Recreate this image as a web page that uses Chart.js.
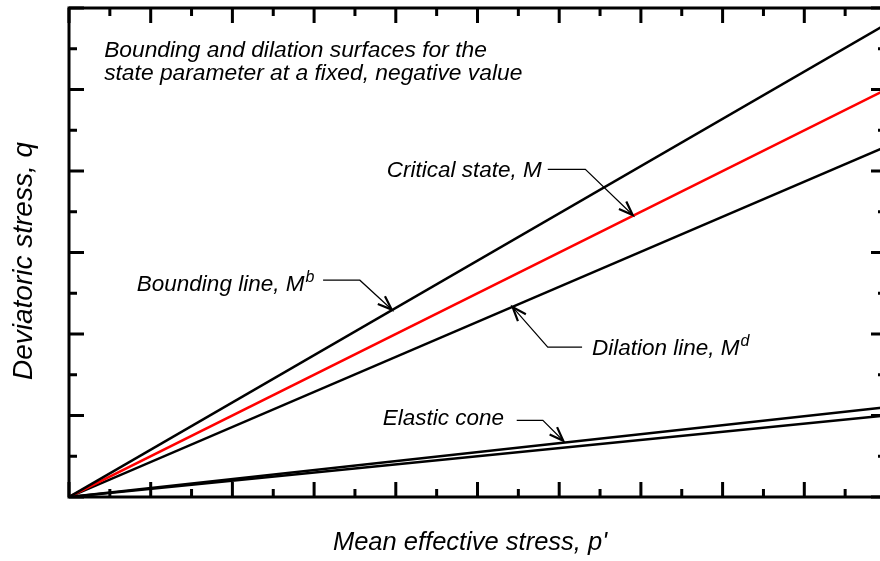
<!DOCTYPE html>
<html>
<head>
<meta charset="utf-8">
<script src="https://cdn.jsdelivr.net/npm/chart.js@4"></script>
<style>
  html, body { margin: 0; padding: 0; background: #fff; overflow: hidden; }
  #wrap { width: 900px; height: 561px; }
</style>
</head>
<body>
<div id="wrap"><canvas id="myChart" width="900" height="561"></canvas></div>
<script>
// mean effective stress p' (axis units) and deviatoric stress q for each line
const pValues = [0, 10];
const qBounding = [0, 5.8];
const qCritical = [0, 5.0];
const qDilation = [0, 4.3];
const qElasticUpper = [0, 1.1];
const qElasticLower = [0, 1.0];

const xRange = [0, 10];
const yRange = [0, 6];
const tickStep = 0.5;

const xTitle = "Mean effective stress, p'";
const yTitle = 'Deviatoric stress, q';

function pts(q) {
  return pValues.map((p, i) => ({ x: p, y: q[i] }));
}

const FONT = '"Liberation Sans", Arial, sans-serif';

// labels with leader arrows, in axis units
const notes = [
  { text: 'Bounding line, M', sup: 'b', at: [0.83, 2.53], leader: [[3.11, 2.66], [3.56, 2.66], [3.95, 2.30]] },
  { text: 'Critical state, M', sup: '', at: [3.89, 3.93], leader: [[5.86, 4.02], [6.32, 4.02], [6.90, 3.46]] },
  { text: 'Dilation line, M', sup: 'd', at: [6.40, 1.74], leader: [[6.28, 1.84], [5.86, 1.84], [5.43, 2.33]] },
  { text: 'Elastic cone', sup: '', at: [3.84, 0.88], leader: [[5.48, 0.94], [5.80, 0.94], [6.05, 0.69]] }
];
const boxText = ['Bounding and dilation surfaces for the', 'state parameter at a fixed, negative value'];

const framePlugin = {
  id: 'frame',
  afterDraw(chart) {
    const ctx = chart.ctx;
    const a = chart.chartArea;
    const xs = chart.scales.x, ys = chart.scales.y;
    ctx.save();
    ctx.strokeStyle = '#000';
    ctx.lineWidth = 3;
    ctx.lineCap = 'butt';
    ctx.strokeRect(a.left, a.top, a.right - a.left, a.bottom - a.top);

    // inward ticks on all four sides
    for (let v = xRange[0]; v <= xRange[1] + 1e-9; v += tickStep) {
      const x = xs.getPixelForValue(v);
      const len = Math.abs(v - Math.round(v)) < 1e-9 ? 15 : 8;
      ctx.beginPath();
      ctx.moveTo(x, a.bottom); ctx.lineTo(x, a.bottom - len);
      ctx.moveTo(x, a.top); ctx.lineTo(x, a.top + len);
      ctx.stroke();
    }
    for (let v = yRange[0]; v <= yRange[1] + 1e-9; v += tickStep) {
      const y = ys.getPixelForValue(v);
      const len = Math.abs(v - Math.round(v)) < 1e-9 ? 15 : 8;
      ctx.beginPath();
      ctx.moveTo(a.left, y); ctx.lineTo(a.left + len, y);
      ctx.moveTo(a.right, y); ctx.lineTo(a.right - len, y);
      ctx.stroke();
    }

    ctx.fillStyle = '#000';
    ctx.textBaseline = 'alphabetic';

    // axis titles
    ctx.textAlign = 'center';
    ctx.font = 'italic 25.5px ' + FONT;
    ctx.fillText(xTitle, 470, 550);
    ctx.save();
    ctx.translate(32, 261);
    ctx.rotate(-Math.PI / 2);
    ctx.font = 'italic 28px ' + FONT;
    ctx.fillText(yTitle, 0, 0);
    ctx.restore();

    // annotations
    ctx.textAlign = 'left';
    ctx.font = 'italic 22.8px ' + FONT;
    const bx = xs.getPixelForValue(0.43);
    ctx.fillText(boxText[0], bx, ys.getPixelForValue(5.40));
    ctx.fillText(boxText[1], bx, ys.getPixelForValue(5.12));

    notes.forEach(n => {
      const tx = xs.getPixelForValue(n.at[0]);
      const ty = ys.getPixelForValue(n.at[1]);
      ctx.font = 'italic 22.5px ' + FONT;
      ctx.fillText(n.text, tx, ty);
      if (n.sup) {
        const w = ctx.measureText(n.text).width;
        ctx.font = 'italic 16px ' + FONT;
        ctx.fillText(n.sup, tx + w + 1, ty - 9);
      }
      const L = n.leader.map(p => [xs.getPixelForValue(p[0]), ys.getPixelForValue(p[1])]);
      ctx.lineWidth = 1.2;
      ctx.beginPath();
      ctx.moveTo(L[0][0], L[0][1]);
      for (let i = 1; i < L.length; i++) ctx.lineTo(L[i][0], L[i][1]);
      ctx.stroke();
      // open arrow head
      const tip = L[L.length - 1], prev = L[L.length - 2];
      const ang = Math.atan2(tip[1] - prev[1], tip[0] - prev[0]);
      const hl = 15, spread = 0.36;
      ctx.lineWidth = 2.2;
      ctx.lineJoin = 'miter';
      ctx.beginPath();
      ctx.moveTo(tip[0] - hl * Math.cos(ang - spread), tip[1] - hl * Math.sin(ang - spread));
      ctx.lineTo(tip[0], tip[1]);
      ctx.lineTo(tip[0] - hl * Math.cos(ang + spread), tip[1] - hl * Math.sin(ang + spread));
      ctx.stroke();
    });
    ctx.restore();
  }
};

const ctx1 = document.getElementById('myChart').getContext('2d');
const lineStyle = { showLine: true, pointRadius: 0, borderWidth: 2.5, fill: false };

new Chart(ctx1, {
  type: 'scatter',
  data: {
    datasets: [
      Object.assign({ label: 'Bounding line', data: pts(qBounding), borderColor: '#000' }, lineStyle),
      Object.assign({ label: 'Critical state', data: pts(qCritical), borderColor: '#ff0000' }, lineStyle),
      Object.assign({ label: 'Dilation line', data: pts(qDilation), borderColor: '#000' }, lineStyle),
      Object.assign({ label: 'Elastic cone upper', data: pts(qElasticUpper), borderColor: '#000' }, lineStyle),
      Object.assign({ label: 'Elastic cone lower', data: pts(qElasticLower), borderColor: '#000' }, lineStyle)
    ]
  },
  options: {
    responsive: false,
    animation: false,
    devicePixelRatio: 1,
    layout: { padding: { top: 8, right: 14, left: 0, bottom: 0 } },
    plugins: { legend: { display: false }, tooltip: { enabled: false } },
    scales: {
      x: {
        type: 'linear',
        min: xRange[0], max: xRange[1],
        ticks: { display: false },
        grid: { display: false },
        border: { display: false },
        afterFit(s) { s.height = 64; }
      },
      y: {
        type: 'linear',
        min: yRange[0], max: yRange[1],
        ticks: { display: false },
        grid: { display: false },
        border: { display: false },
        afterFit(s) { s.width = 69; }
      }
    }
  },
  plugins: [framePlugin]
});
</script>
</body>
</html>
